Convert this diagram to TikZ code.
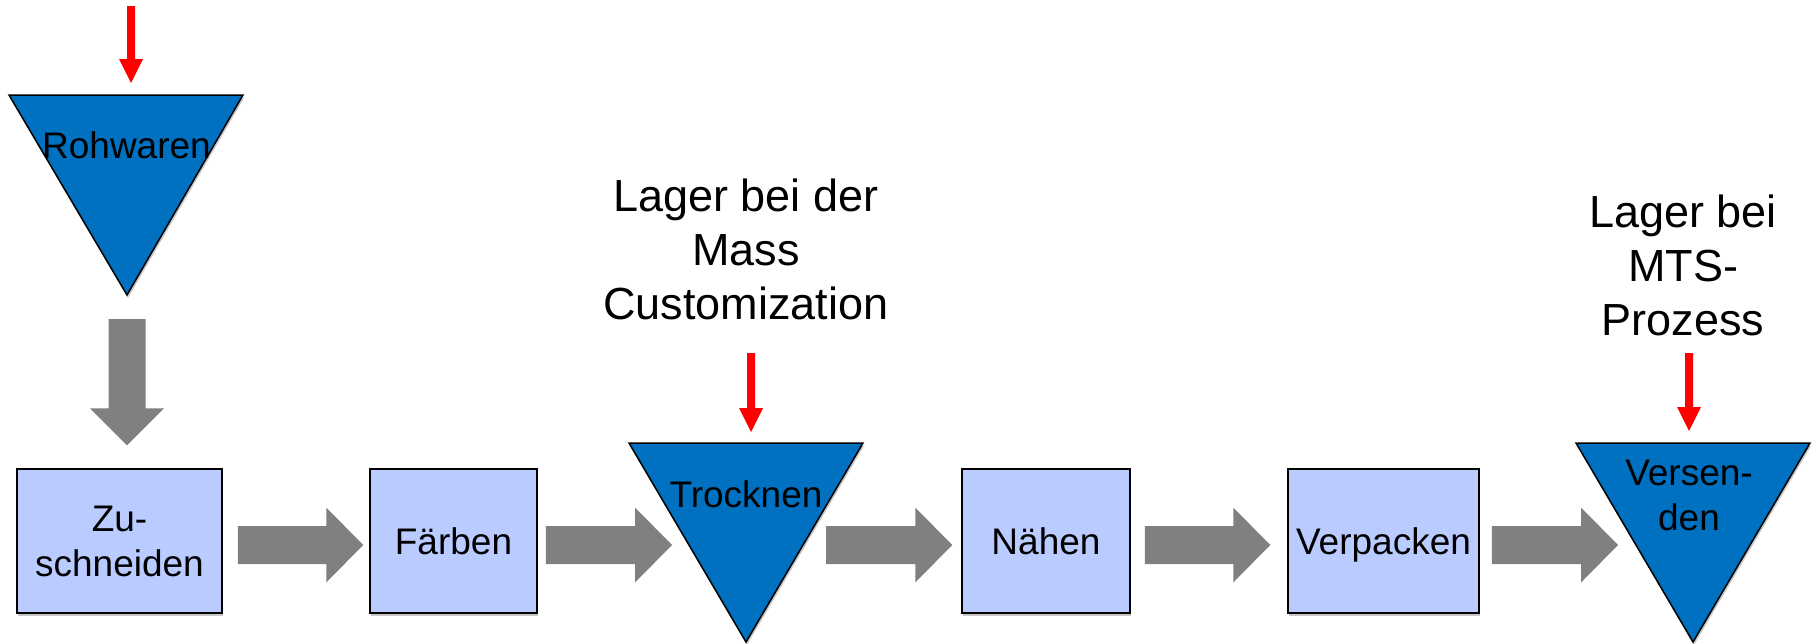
\documentclass[tikz,border=0pt]{standalone}
\usepackage{fontspec}
\setmainfont{Liberation Sans}
\usetikzlibrary{calc,shadows}
\definecolor{boxfill}{RGB}{185,203,255}
\definecolor{trifill}{RGB}{0,112,192}
\definecolor{flowgray}{RGB}{128,128,128}
\definecolor{stockred}{RGB}{255,0,0}
% horizontal block arrow: #1 start, #2 tip (same y as start)
\newcommand\HArrowShape[2]{%
  \fill[flowgray] let \p1=(#1), \p2=(#2) in
    (\x1,\y1+19pt) -- (\x2-37pt,\y1+19pt) -- (\x2-37pt,\y1+37.5pt) --
    (\x2,\y1) -- (\x2-37pt,\y1-37.5pt) -- (\x2-37pt,\y1-19pt) --
    (\x1,\y1-19pt) -- cycle;}
% vertical (downward) arrow: #1 start, #2 tip, #3 shaft width, #4 head width, #5 head length, #6 colour
\newcommand\VArrowShape[6]{%
  \fill[#6] let \p1=(#1), \p2=(#2) in
    (\x1-#3/2,\y1) -- (\x1-#3/2,\y2+#5) -- (\x1-#4/2,\y2+#5) --
    (\x1,\y2) -- (\x1+#4/2,\y2+#5) -- (\x1+#3/2,\y2+#5) --
    (\x1+#3/2,\y1) -- cycle;}
\begin{document}
\begin{tikzpicture}[x=1pt,y=-1pt,
  softshadow/.style={drop shadow={shadow xshift=1pt,shadow yshift=-3pt,opacity=0.22,fill=black}},
  boxnode/.style={draw=black,line width=1.5pt,fill=boxfill,minimum height=144pt,
    inner sep=0pt,align=center,font=\fontsize{37}{45}\selectfont,softshadow},
  trishape/.style={draw=black,line width=1.5pt,fill=trifill,softshadow},
  tritext/.style={anchor=base,inner sep=0pt,font=\fontsize{37}{45}\selectfont},
  labeltext/.style={anchor=base,inner sep=0pt,font=\fontsize{45}{54}\selectfont},
]
\useasboundingbox (0,0) rectangle (1818,643);

% ---------- process boxes ----------
\node[boxnode,minimum width=205pt] (zu)  at (119.5,541) {Zu-\\schneiden};
\node[boxnode,minimum width=167pt,text depth=0pt] (fa)  at (453.5,541) {Färben};
\node[boxnode,minimum width=168pt,text depth=0pt] (nae) at (1046,541) {Nähen};
\node[boxnode,minimum width=191pt,text depth=0pt] (ver) at (1383.5,541) {Verpacken};

% ---------- stock triangles ----------
\coordinate (rohTL) at (9,95);   \coordinate (rohTR) at (243,95);  \coordinate (rohB) at (127,295);
\coordinate (troTL) at (629,443); \coordinate (troTR) at (863,443); \coordinate (troB) at (746,642);
\coordinate (vsdTL) at (1576,443); \coordinate (vsdTR) at (1810,443); \coordinate (vsdB) at (1693,642);
\draw[trishape] (rohTL) -- (rohTR) -- (rohB) -- cycle;
\draw[trishape] (troTL) -- (troTR) -- (troB) -- cycle;
\draw[trishape] (vsdTL) -- (vsdTR) -- (vsdB) -- cycle;
\node[tritext] (roh) at (126.5,158) {Rohwaren};
\node[tritext] (tro) at (746,507) {Trocknen};
\node[tritext] (vsd) at (1689,485) {\begin{tabular}[t]{@{}c@{}}Versen-\\den\end{tabular}};

% ---------- labels ----------
\node[labeltext] (lab1) at (746,211) {\begin{tabular}[t]{@{}c@{}}Lager bei der\\Mass\\Customization\end{tabular}};
\node[labeltext] (lab2) at (1683,227) {\begin{tabular}[t]{@{}c@{}}Lager bei\\MTS-\\Prozess\end{tabular}};

% ---------- connector end points ----------
\coordinate (troIn)  at (672,545);
\coordinate (troOut) at (826,545);
\coordinate (vsdIn)  at (1618,545);
\coordinate (red1s) at (131,6);    \coordinate (red1e) at (131,83);
\coordinate (red2s) at (751,353);  \coordinate (red2e) at (751,432);
\coordinate (red3s) at (1689,353); \coordinate (red3e) at (1689,431);

% ---------- grey flow arrows ----------
\VArrowShape{[yshift=-24pt]rohB}{[yshift=23pt]zu.north}{37pt}{74pt}{37pt}{flowgray}
\HArrowShape{[xshift=15pt,yshift=-4pt]zu.east}{[xshift=-6pt,yshift=-4pt]fa.west}
\HArrowShape{[xshift=8pt,yshift=-4pt]fa.east}{troIn}
\HArrowShape{troOut}{[xshift=-9pt,yshift=-4pt]nae.west}
\HArrowShape{[xshift=14pt,yshift=-4pt]nae.east}{[xshift=-17pt,yshift=-4pt]ver.west}
\HArrowShape{[xshift=12pt,yshift=-4pt]ver.east}{vsdIn}

% ---------- red stock arrows ----------
\VArrowShape{red1s}{red1e}{8pt}{24pt}{24pt}{stockred}
\VArrowShape{red2s}{red2e}{8pt}{24pt}{24pt}{stockred}
\VArrowShape{red3s}{red3e}{8pt}{24pt}{24pt}{stockred}
\end{tikzpicture}
\end{document}
